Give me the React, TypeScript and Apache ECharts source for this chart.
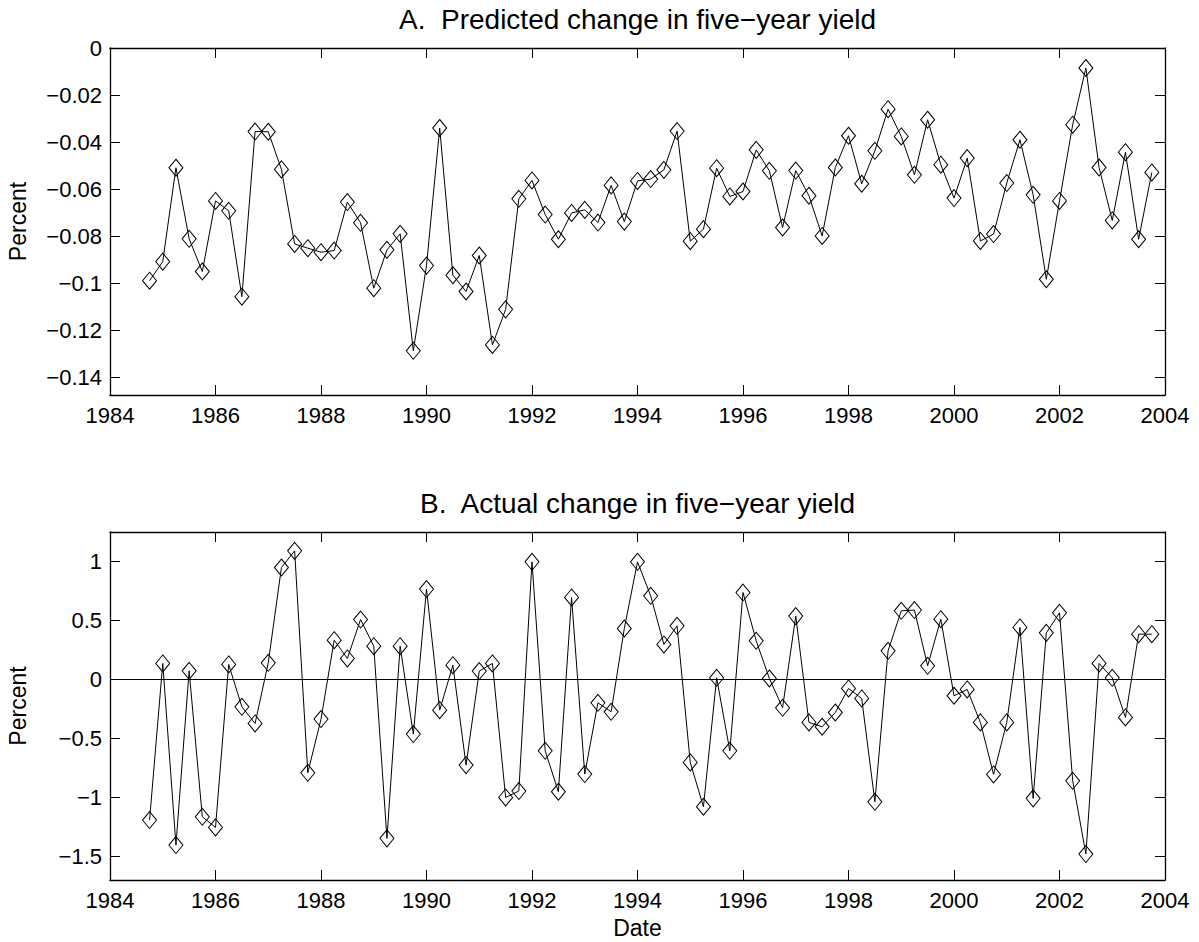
import React, { useEffect, useRef } from "react";
import * as echarts from "echarts";

const dates: number[] = [
  1984.75, 1985.0, 1985.25, 1985.5, 1985.75, 1986.0, 1986.25, 1986.5, 1986.75,
  1987.0, 1987.25, 1987.5, 1987.75, 1988.0, 1988.25, 1988.5, 1988.75,
  1989.0, 1989.25, 1989.5, 1989.75, 1990.0, 1990.25, 1990.5, 1990.75,
  1991.0, 1991.25, 1991.5, 1991.75, 1992.0, 1992.25, 1992.5, 1992.75,
  1993.0, 1993.25, 1993.5, 1993.75, 1994.0, 1994.25, 1994.5, 1994.75,
  1995.0, 1995.25, 1995.5, 1995.75, 1996.0, 1996.25, 1996.5, 1996.75,
  1997.0, 1997.25, 1997.5, 1997.75, 1998.0, 1998.25, 1998.5, 1998.75,
  1999.0, 1999.25, 1999.5, 1999.75, 2000.0, 2000.25, 2000.5, 2000.75,
  2001.0, 2001.25, 2001.5, 2001.75, 2002.0, 2002.25, 2002.5, 2002.75,
  2003.0, 2003.25, 2003.5, 2003.75,
];

const predicted: number[] = [
  -0.0989, -0.0908, -0.0509, -0.0811, -0.095, -0.065, -0.0692, -0.1057, -0.0355,
  -0.0356, -0.0516, -0.0833, -0.0851, -0.0868, -0.0861, -0.0655, -0.0743,
  -0.1021, -0.0858, -0.079, -0.1287, -0.0925, -0.034, -0.0966, -0.1035,
  -0.0882, -0.1262, -0.1111, -0.0641, -0.0563, -0.0708, -0.0813, -0.0701,
  -0.0688, -0.0742, -0.0584, -0.0738, -0.0565, -0.0557, -0.0518, -0.0353,
  -0.0821, -0.077, -0.0511, -0.0631, -0.061, -0.0433, -0.0522, -0.0763,
  -0.0521, -0.0628, -0.0799, -0.0508, -0.0373, -0.0577, -0.0437, -0.026,
  -0.0376, -0.0539, -0.0305, -0.0496, -0.0638, -0.0468, -0.082, -0.0791,
  -0.0574, -0.039, -0.0624, -0.0983, -0.065, -0.0326, -0.0085, -0.0508,
  -0.0733, -0.0443, -0.0813, -0.0529,
];

const actual: number[] = [
  -1.192, 0.136, -1.404, 0.073, -1.164, -1.254, 0.127, -0.232, -0.373,
  0.141, 0.949, 1.09, -0.791, -0.336, 0.333, 0.178, 0.508,
  0.282, -1.347, 0.282, -0.463, 0.766, -0.26, 0.121, -0.726,
  0.071, 0.136, -1.0, -0.946, 0.997, -0.605, -0.952, 0.695,
  -0.802, -0.198, -0.274, 0.432, 0.997, 0.709, 0.297, 0.455,
  -0.703, -1.079, 0.014, -0.605, 0.737, 0.328, 0.008, -0.24,
  0.537, -0.364, -0.401, -0.28, -0.076, -0.161, -1.037, 0.243,
  0.582, 0.588, 0.116, 0.511, -0.138, -0.085, -0.364, -0.805,
  -0.364, 0.441, -1.008, 0.395, 0.565, -0.859, -1.48, 0.136,
  0.014, -0.322, 0.384, 0.384,
];

const yTicksA: number[] = [0, -0.02, -0.04, -0.06, -0.08, -0.1, -0.12, -0.14];
const yTicksB: number[] = [1, 0.5, 0, -0.5, -1, -1.5];
const xTicks: number[] = [1984, 1986, 1988, 1990, 1992, 1994, 1996, 1998, 2000, 2002, 2004];

const titleA = "A.  Predicted change in five\u2212year yield";
const titleB = "B.  Actual change in five\u2212year yield";
const yLabel = "Percent";
const xLabel = "Date";

const FONT = "'Liberation Sans', Arial, Helvetica, sans-serif";

const fmt = (v: number) => String(v).replace("-", "\u2212");

export default function App() {
  const ref = useRef<HTMLDivElement>(null);

  useEffect(() => {
    document.body.style.margin = "0";
    if (!ref.current) return;
    const chart = echarts.init(ref.current, undefined, { renderer: "svg" });

    const axisLine = { show: true, onZero: false, lineStyle: { color: "#000", width: 1.3 } };
    const tick = { show: true, inside: true, length: 10, lineStyle: { color: "#000", width: 1 } };
    const label = { color: "#000", fontSize: 22, fontFamily: FONT };

    const xAxisFor = (gi: number) => [
      {
        type: "value",
        gridIndex: gi,
        position: "bottom",
        min: 1984,
        max: 2004,
        axisLine,
        axisTick: { ...tick, customValues: xTicks },
        axisLabel: {
          ...label,
          margin: 9,
          showMinLabel: true,
          showMaxLabel: true,
          customValues: xTicks,
          formatter: (v: number) => String(v),
        },
        splitLine: { show: false },
      },
      {
        type: "value",
        gridIndex: gi,
        position: "top",
        min: 1984,
        max: 2004,
        axisLine,
        axisTick: { ...tick, customValues: xTicks },
        axisLabel: { show: false, customValues: xTicks },
        splitLine: { show: false },
      },
    ];

    const yAxisFor = (gi: number, min: number, max: number, ticks: number[]) => [
      {
        type: "value",
        gridIndex: gi,
        position: "left",
        min,
        max,
        axisLine,
        axisTick: { ...tick, customValues: ticks },
        axisLabel: { ...label, margin: 8, customValues: ticks, formatter: fmt },
        splitLine: { show: false },
      },
      {
        type: "value",
        gridIndex: gi,
        position: "right",
        min,
        max,
        axisLine,
        axisTick: { ...tick, customValues: ticks },
        axisLabel: { show: false, customValues: ticks },
        splitLine: { show: false },
      },
    ];

    const seriesStyle = {
      type: "line",
      symbol: "diamond",
      symbolSize: [14, 17],
      showAllSymbol: true,
      lineStyle: { color: "#000", width: 1 },
      itemStyle: { color: "rgba(0,0,0,0)", borderColor: "#000", borderWidth: 1 },
      emphasis: { disabled: true },
      silent: true,
      clip: false,
    };

    const textStyle = (size: number) => ({
      fill: "#000",
      fontSize: size,
      fontFamily: FONT,
      align: "center",
      verticalAlign: "middle",
      textAlign: "center",
      textVerticalAlign: "middle",
    });

    chart.setOption({
      animation: false,
      backgroundColor: "#fff",
      grid: [
        { left: 110, top: 48, width: 1055, height: 347, outerBoundsMode: "none" },
        { left: 110, top: 532, width: 1055, height: 348, outerBoundsMode: "none" },
      ],
      xAxis: [...xAxisFor(0), ...xAxisFor(1)],
      yAxis: [
        ...yAxisFor(0, -0.1475, 0, yTicksA),
        ...yAxisFor(1, -1.7, 1.25, yTicksB),
      ],
      series: [
        {
          ...seriesStyle,
          xAxisIndex: 0,
          yAxisIndex: 0,
          data: dates.map((d, i) => [d, predicted[i]]),
        },
        {
          ...seriesStyle,
          xAxisIndex: 2,
          yAxisIndex: 2,
          data: dates.map((d, i) => [d, actual[i]]),
          markLine: {
            silent: true,
            symbol: ["none", "none"],
            label: { show: false },
            lineStyle: { color: "#000", width: 1, type: "solid" },
            emphasis: { disabled: true },
            data: [{ yAxis: 0 }],
          },
        },
      ],
      graphic: [
        { type: "text", x: 637.5, y: 19, style: { text: titleA, ...textStyle(28) } },
        { type: "text", x: 637.5, y: 503, style: { text: titleB, ...textStyle(28) } },
        { type: "text", x: 18, y: 221.5, rotation: Math.PI / 2, style: { text: yLabel, ...textStyle(23) } },
        { type: "text", x: 18, y: 706, rotation: Math.PI / 2, style: { text: yLabel, ...textStyle(23) } },
        { type: "text", x: 637.5, y: 928, style: { text: xLabel, ...textStyle(23) } },
      ],
    });

    return () => chart.dispose();
  }, []);

  return <div ref={ref} style={{ width: 1199, height: 942 }} />;
}
